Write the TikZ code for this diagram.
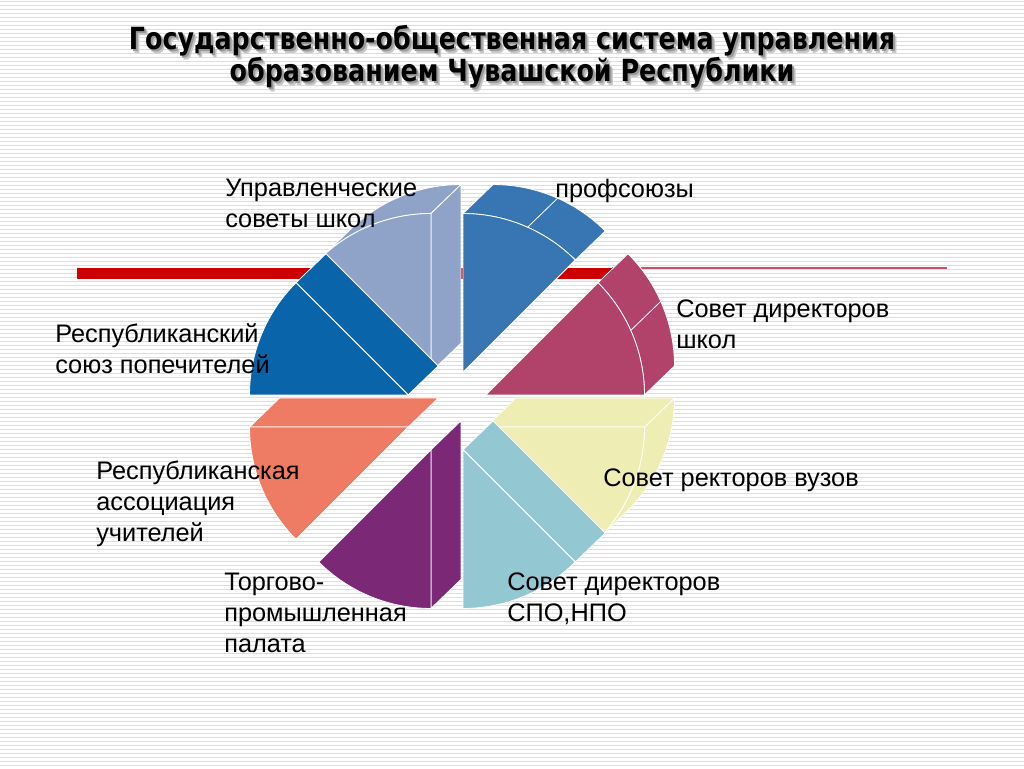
\documentclass[tikz,border=0pt]{standalone}
\usepackage{fontspec}
\setmainfont{Liberation Sans}
\newfontfamily\titlefont[FakeStretch=0.83]{DejaVu Sans}
\usetikzlibrary{calc}
\definecolor{cA}{HTML}{8FA3C9}
\definecolor{cB}{HTML}{0A64A9}
\definecolor{cC}{HTML}{3776B3}
\definecolor{cD}{HTML}{B1436A}
\definecolor{cE}{HTML}{EEEDB4}
\definecolor{cF}{HTML}{93C8D3}
\definecolor{cG}{HTML}{7B2977}
\definecolor{cH}{HTML}{EE7B63}
\definecolor{barred}{HTML}{CC0000}
\definecolor{thinred}{HTML}{C8506A}
\definecolor{stripe}{HTML}{DEDEDE}
\def\R{119pt}
\tikzset{
  edge/.style={draw=white, line width=0.6pt, line join=round},
  lab/.style={anchor=north west, inner sep=0pt, align=left, font=\fontsize{19pt}{23.25pt}\selectfont},
  ttl/.style={align=center, inner sep=0pt, font=\titlefont\bfseries\fontsize{22.9pt}{22.5pt}\selectfont}
}
\newcommand\pfront[4]{\path[fill=#4,edge] (#1) -- ++(#2:\R) arc[start angle=#2,end angle=#3,radius=\R] -- cycle;}
\newcommand\pband[4]{\path[fill=#4,edge] ($(#1)+(#2:\R)$) arc[start angle=#2,end angle=#3,radius=\R] -- ++(30,29) arc[start angle=#3,end angle=#2,radius=\R] -- cycle;}
\newcommand\pside[3]{\path[fill=#3,edge] (#1) -- ++(#2:\R) -- ++(30,29) -- ($(#1)+(30,29)$) -- cycle;}
\newcommand\pgen[2]{\draw[edge] ($(#1)+(#2:\R)$) -- ++(30,29);}
\begin{document}
\begin{tikzpicture}[x=0.75pt,y=0.75pt]
\useasboundingbox (0,0) rectangle (1024,768);
\fill[white] (0,0) rectangle (1024,768);
\foreach \i in {0,...,192} \draw[stripe, line width=1.1pt] (0,{768-4*\i-1.5}) -- (1024,{768-4*\i-1.5});
% title
\node[ttl, text=black!22] (titleshadow2) at (515.5,707.5) {Государственно-общественная система управления\\образованием Чувашской Республики};
\node[ttl, text=black!40] (titleshadow) at (514,709) {Государственно-общественная система управления\\образованием Чувашской Республики};
\node[ttl] (title) at (512,711) {Государственно-общественная система управления\\образованием Чувашской Республики};
% red bar
\fill[barred] (77,489) rectangle (612,500);
\draw[thinred, line width=1.5pt] (612,499.5) -- (947,499.5);
% pie
\coordinate (O) at (447,357);
\coordinate (PA) at ($(O)+(112.5:31.5pt)$);
\coordinate (PB) at ($(O)+(157.5:31.5pt)$);
\coordinate (PC) at ($(O)+(67.5:31.5pt)$);
\coordinate (PD) at ($(O)+(22.5:31.5pt)$);
\coordinate (PE) at ($(O)+(-22.5:31.5pt)$);
\coordinate (PF) at ($(O)+(-67.5:31.5pt)$);
\coordinate (PG) at ($(O)+(-112.5:31.5pt)$);
\coordinate (PH) at ($(O)+(-157.5:31.5pt)$);
% A
\pband{PA}{90}{135}{cA}
\pside{PA}{90}{cA}
\pfront{PA}{90}{135}{cA}
% B
\pside{PB}{135}{cB}
\pfront{PB}{135}{180}{cB}
% C
\pband{PC}{45}{90}{cC}
\pfront{PC}{45}{90}{cC}
\pgen{PC}{66}
% D
\pband{PD}{0}{45}{cD}
\pfront{PD}{0}{45}{cD}
\pgen{PD}{24}
% E
\pband{PE}{-45}{0}{cE}
\pside{PE}{0}{cE}
\pfront{PE}{-45}{0}{cE}
% F
\pside{PF}{-45}{cF}
\pfront{PF}{-90}{-45}{cF}
% G
\pside{PG}{270}{cG}
\pfront{PG}{225}{270}{cG}
% H
\pside{PH}{180}{cH}
\pfront{PH}{180}{225}{cH}
% labels
\node[lab] (l1) at (225,589) {Управленческие\\советы школ};
\node[lab] (l2) at (555,589) {профсоюзы};
\node[lab] (l3) at (676,468) {Совет директоров\\школ};
\node[lab] (l4) at (55,445) {Республиканский\\союз попечителей};
\node[lab] (l5) at (96,307) {Республиканская\\ассоциация\\учителей};
\node[lab] (l6) at (603,299) {Совет ректоров вузов};
\node[lab] (l7) at (224,195) {Торгово-\\промышленная\\палата};
\node[lab] (l8) at (507,195) {Совет директоров\\СПО,НПО};
\end{tikzpicture}
\end{document}
